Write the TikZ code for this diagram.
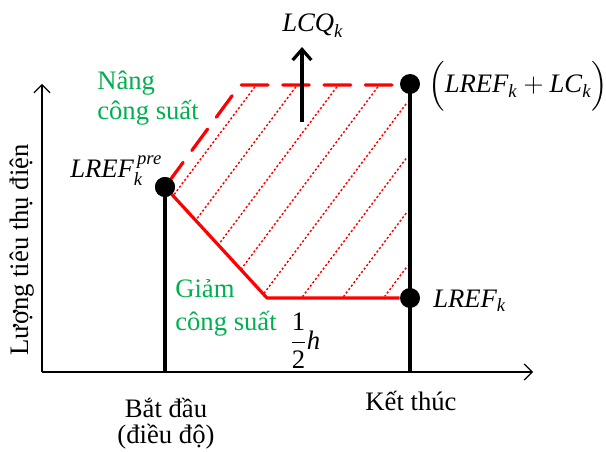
\documentclass[tikz,border=0pt]{standalone}
\usepackage{amsmath}
\usepackage{fontspec}
\setmainfont{Liberation Serif}
\usepackage{xcolor}
\usetikzlibrary{arrows.meta,positioning}
\definecolor{offgreen}{RGB}{0,176,80}
\newcommand{\mi}[1]{\text{\itshape #1}}
\tikzset{
  lbl/.style     ={font=\fontsize{20}{22}\selectfont,inner sep=0pt},
  grn/.style     ={lbl,text=offgreen,align=left},
  dot/.style     ={circle,fill=black,minimum size=15pt,inner sep=0pt},
  axis/.style    ={-{Straight Barb[length=6pt,width=12pt]},line width=0.9pt},
  bar/.style     ={line width=2.8pt},
  redline/.style ={red,line width=2.4pt},
  reddash/.style ={red,line width=2.4pt,dash pattern=on 20pt off 11pt,line cap=round},
  hatch/.style   ={red,line width=1.1pt,dash pattern=on 1.6pt off 1.6pt},
  upvec/.style   ={-{Straight Barb[length=8pt,width=14pt]},line width=2.4pt},
}
\begin{document}
\begin{tikzpicture}[x=0.75pt,y=-0.75pt]
  \useasboundingbox (0,0) rectangle (606,452);
  % axes
  \coordinate (org) at (42,372);
  \coordinate (ytop) at (42,84);
  \coordinate (xend) at (533,372);
  \draw[axis] (org) -- (ytop);
  \draw[axis] (org) -- (xend);
  \node[lbl,rotate=90] (ylab) at (22,250) {Lượng tiêu thụ điện};
  % start / end of the schedule
  \node[dot] (pre) at (165,187) {};
  \node[dot] (up) at (410,84) {};
  \node[dot] (low) at (410,298) {};
  \coordinate (start) at (165,372);
  \coordinate (stop) at (410,372);
  \coordinate (bend) at (267,298);
  \coordinate (ramp) at (240,85);
  \coordinate (flat) at (392,85);
  % hatched band
  \begin{scope}
    \clip (pre.center) -- (ramp) -- (407,87) -- (407,296) -- (bend) -- cycle;
    \foreach \i in {0,...,7}
      \draw[hatch] ({260+41*\i},80) -- ++(-180,240);
  \end{scope}
  \draw[bar] (pre.center) -- (start);
  \draw[bar] (up.center) -- (stop);
  \draw[redline,line join=round] (pre) -- (bend) -- (low);
  \draw[reddash,line join=round] (flat) -- (ramp) -- (pre);
  \node[dot] at (pre) {};
  % capacity arrow
  \coordinate (qfoot) at (302,122);
  \coordinate (qtip) at (302,47);
  \draw[upvec] (qfoot) -- (qtip);
  \node[lbl,anchor=base west] (lcq) at (282,32) {$\mi{LCQ}_{\mi{k}}$};
  % value labels
  \node[lbl,anchor=base west] (lpre) at (70,178) {$\mi{LREF}_{\mi{k}}^{\,\mi{pre}}$};
  \node[lbl,anchor=base west] (lup) at (428,93) {$\Bigl(\mi{LREF}_{\mi{k}}+\mi{LC}_{\mi{k}}\Bigr)$};
  \node[lbl,anchor=base west] (llow) at (433,307) {$\mi{LREF}_{\mi{k}}$};
  \node[lbl,anchor=west] (half) at (290,341) {$\dfrac{\text{1}}{\text{2}}\mi{h}$};
  % green notes
  \node[grn,font=\fontsize{20}{22.5}\selectfont,anchor=base west] (raise) at (97,120) {Nâng\\công suất};
  \node[grn,font=\fontsize{20}{24.5}\selectfont,anchor=base west] (drop) at (175,330) {Giảm\\công suất};
  % time labels
  \node[lbl,font=\fontsize{20}{19.5}\selectfont,align=center,anchor=base] (tstart) at (166,443) {Bắt đầu\\(điều độ)};
  \node[lbl,anchor=base] (tstop) at (411,410) {Kết thúc};
\end{tikzpicture}
\end{document}
